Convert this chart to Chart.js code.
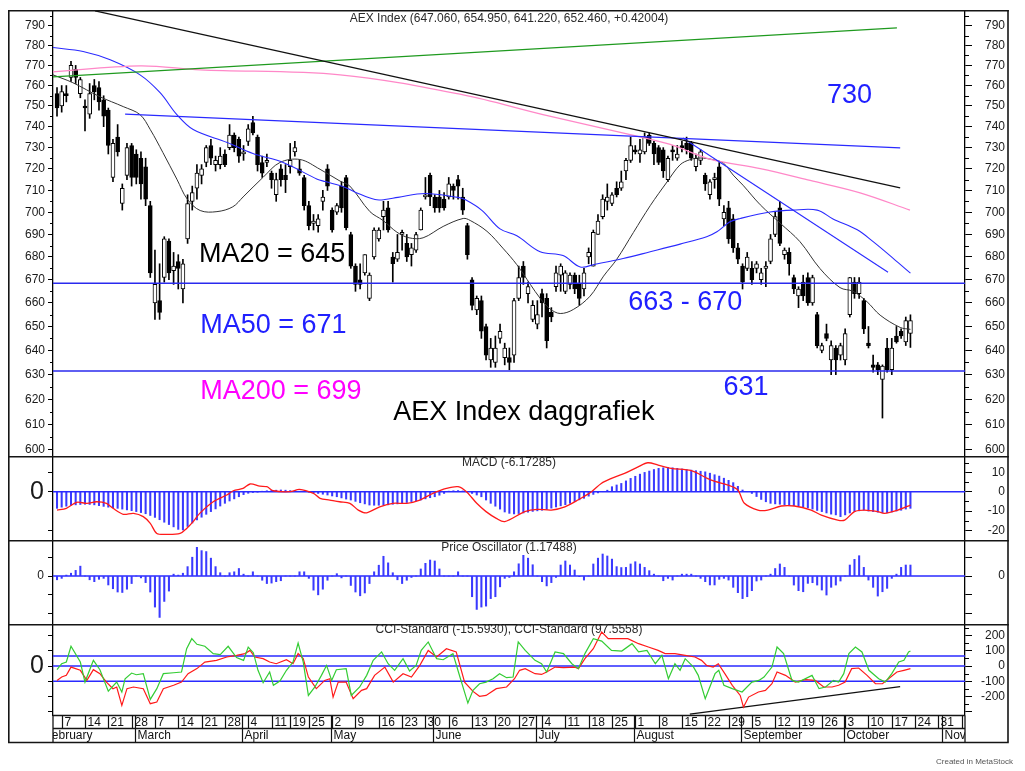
<!DOCTYPE html>
<html><head><meta charset="utf-8">
<script src="https://cdn.jsdelivr.net/npm/chart.js@4.4.0/dist/chart.umd.min.js"></script>
<style>
html,body{margin:0;padding:0;background:#fff;}
#wrap{position:relative;width:1025px;height:771px;background:#fff;overflow:hidden;}
canvas{position:absolute;left:0;}
</style></head><body>
<div id="wrap">
<canvas id="cMain" width="1025" height="446" style="top:10px"></canvas>
<canvas id="cMacd" width="1025" height="84" style="top:456px"></canvas>
<canvas id="cPo" width="1025" height="84" style="top:540px"></canvas>
<canvas id="cCci" width="1025" height="147" style="top:624px"></canvas>
</div>
<script>
// ---------- categories (trading days 2022) ----------
const tradingDays = ["02-04","02-07","02-08","02-09","02-10","02-11","02-14","02-15","02-16","02-17","02-18","02-21","02-22","02-23","02-24","02-25","02-28",
"03-01","03-02","03-03","03-04","03-07","03-08","03-09","03-10","03-11","03-14","03-15","03-16","03-17","03-18","03-21","03-22","03-23","03-24","03-25","03-28","03-29","03-30","03-31",
"04-01","04-04","04-05","04-06","04-07","04-08","04-11","04-12","04-13","04-14","04-19","04-20","04-21","04-22","04-25","04-26","04-27","04-28","04-29",
"05-02","05-03","05-04","05-05","05-06","05-09","05-10","05-11","05-12","05-13","05-16","05-17","05-18","05-19","05-20","05-23","05-24","05-25","05-26","05-27","05-30","05-31",
"06-01","06-02","06-03","06-06","06-07","06-08","06-09","06-10","06-13","06-14","06-15","06-16","06-17","06-20","06-21","06-22","06-23","06-24","06-27","06-28","06-29","06-30",
"07-01","07-04","07-05","07-06","07-07","07-08","07-11","07-12","07-13","07-14","07-15","07-18","07-19","07-20","07-21","07-22","07-25","07-26","07-27","07-28","07-29",
"08-01","08-02","08-03","08-04","08-05","08-08","08-09","08-10","08-11","08-12","08-15","08-16","08-17","08-18","08-19","08-22","08-23","08-24","08-25","08-26","08-29","08-30","08-31",
"09-01","09-02","09-05","09-06","09-07","09-08","09-09","09-12","09-13","09-14","09-15","09-16","09-19","09-20","09-21","09-22","09-23","09-26","09-27","09-28","09-29","09-30",
"10-03","10-04","10-05","10-06","10-07","10-10","10-11","10-12","10-13","10-14","10-17","10-18","10-19","10-20","10-21"];

// ---------- price series ----------
const openP = [756,750,756,764,768,756,750,746,760,759, 753,748,716,735,704,717,731,727,725,721, 703,660,661,671,687,674,678,666,688,705,
711,717,723,731,722,722,727,730,736,734, 727,733,742,735,723,723,718,708,720,717, 721,728,720,716,703,695,694,705,720,701,
700,712,716,690,676,670,673,662,680,688, 698,702,680,679,690,686,681,683,692,707, 717,707,707,706,707,712,715,707,694,670,
657,661,650,636,635,645,637,637,638,662, 676,664,653,651,664,662,656,667,672,665, 668,672,668,666,680,676,690,698,705,704,
711,711,719,724,729,727,728,736,732,730, 729,715,729,725,731,732,732,721,724,717, 708,715,721,697,702,697,684,676,675,675,
675,670,675,678,690,702,681,682,671,663, 669,671,660,655,640,647,636,641,638,636, 655,669,664,661,643,634,634,628,641,632,
646,648,643.5,647.06];
const highP = [759,760,760,772,770,764,753,761,763,762, 755,749,734,741,713,732,732,729,728,725, 705,683,677,689,688,682,681,679,708,712,
722,722,731,734,726,730,729,741,737,735, 731,741,745,736,726,727,719,718,722,722, 732,733,724,717,705,699,699,710,722,702,
704,714,717,691,677,677,681,673,693,693, 705,705,682,690,692,690,686,691,702,716, 718,708,710,709,716,713,717,711,695,671,
663,663,651,645,646,651,643,641,662,676, 678,669,661,661,666,664,658,676,677,674, 673,673,672,675,684,692,699,708,713,709,
714,719,725,735,731,734,737,737,733,731, 730,726,731,731,733,735,733,727,729,718, 715,718,723,703,705,699,686,677,682,678,
678,675,678,690,700,705,684,684,672,667, 672,673,672,656,643,651,644,642,643,649, 671,671,671,662,650,638,635,634,645,645,
650,649,654,654.95];
const lowP = [745,747,752,762,761,754,738,744,753,748, 740,727,714,726,701,715,712,713,706,703, 671,653,653,669,670,668,666,660,686,701,
706,713,721,722,719,720,721,729,728,723, 724,731,736,719,716,721,711,705,712,709, 718,726,717,701,692,692,691,701,710,691,
699,700,692,675,665,666,672,661,679,687, 692,691,669,678,683,678,676,682,692,706, 703,700,700,701,706,706,706,699,679,657,
655,645,636,633,633,643,634,632,635,661, 668,660,652,649,654,641,652,665,665,664, 666,664,659,663,677,676,690,697,701,703,
707,710,715,723,727,723,727,731,722,722, 716,714,724,724,728,727,724,719,722,710, 706,711,703,694,686,682,677,666,674,668,
673,668,667,677,689,685,679,672,664,658, 661,659,659,641,639,644,630,630,636,634, 654,662,662,647,641,631,630,612.5,631,630,
643,645,642,641.22];
const closeP = [749,757,755,770,764,763,749,756,757,752, 745,731,732,728,711,730,716,716,713,706, 673,668,656,688,673,676,675,677,704,709,
718,720,730,725,724,726,722,736,730,726, 728,739,737,722,718,724,715,715,715,715, 724,730,718,703,694,696,697,707,712,692,
703,702,693,676,668,668,681,672,692,692, 701,692,677,682,691,680,684,690,701,708, 707,702,702,702,713,710,712,701,681,659,
662,648,638,641,641,648,641,635,661,671, 671,667,659,655,660,644,654,673,676,673, 672,666,662,673,682,691,696,706,707,708,
708,714,724,731,728,729,735,732,727,723, 719,725,728,727,730,729,725,725,728,713, 714,716,706,700,688,684,679,669,680,670,
677,673,676,688,698,686,683,677,666,666, 663,660,671,642,642,645,642,636,642,647, 671,664,669,649,642,633,632,633.5,632,641,
643.5,646,652.5,652.46];

// moving averages (day index, value)
const ma20Idx = [-0.86,3.4,9.2,14.2,17.8,20.0,22.7,25.7,27.9,30.7,34.3,37.7,39.9,44.2,47.8,52.1,56.4,60.7,62.8,67.1,69.9,72.9,75.5,78.5,82.8,87.1,88.6,92.2,95.6,98.6,101.5,103.6,105.7,107.9,110.7,114.3,117.2,120.0,123.6,127.2,130.8,133.6,135.7,137.9,140.7,142.9,145.0,147.1,150.8,155.1,159.3,163.6,167.9,170.7,173.7,176.5,180.8,183.0];
const ma20Val = [765.3,761.4,754.5,749.7,745.8,738.6,727.7,715.2,706.1,700.8,700.3,702.5,707.0,716.1,723.0,724.4,719.8,714.3,712.0,700.3,696.3,691.0,688.5,688.5,693.6,697.2,696.3,691.4,683.9,676.6,668.0,662.0,657.5,655.5,657.2,662.9,671.6,678.9,690.9,703.0,713.9,721.9,724.3,725.1,724.3,722.7,717.1,712.4,703.4,695.0,686.8,674.9,666.6,665.0,660.5,654.8,649.6,648.8];
const ma50Idx = [-0.86,5.6,11.4,17.8,22.1,25.7,29.2,36.5,42.0,48.5,55.8,57.5,61.8,64.6,68.2,70.3,73.1,78.9,86,87.5,91.1,95.0,98.6,103.6,108.5,112.2,115.4,121.4,127.2,133.6,139.3,141.5,144.3,146.5,152.9,157.8,163.0,166.4,171.6,175.0,179.3,183.0];
const ma50Val = [779.0,777.0,772.8,765.3,756.5,745.8,738.6,732.4,727.2,723.0,715.2,714.1,711.4,708.6,705.8,705.8,706.8,708.6,706.8,705.8,700.9,692.5,689.4,682.3,680.6,675.6,676.8,679.3,682.3,685.7,689.0,691.2,695.7,697.2,700.1,701.0,701.0,697.0,692.1,686.8,679.4,672.9];
const ma200Idx = [-0.86,17.8,30.7,60.7,87.1,104.2,122.9,131.5,140.0,150.8,161.5,172.2,182.9];
const ma200Val = [766.8,769.8,767.8,765.3,755.4,745.8,736.2,731.5,724.6,720.1,714.6,708.9,701.0];

// trend lines and levels (day index, value)
const trendBlackIdx = [8.15,180.8], trendBlackVal = [797.7,711.2];
const trendGreenIdx = [-0.86,180.1], trendGreenVal = [764.3,789.0];
const trendBlueIdx = [14.6,180.8], trendBlueVal = [746.0,729.9];
const trendBlue2Idx = [134.2,178.2], trendBlue2Val = [734.6,673.3];
const supportLevels = [668.5,631.5];
const priceTicks = [600,610,620,630,640,650,660,670,680,690,700,710,720,730,740,750,760,770,780,790];

// ---------- MACD ----------
const macdHist = [-8.6,-8.0,-7.5,-7.0,-6.8,-6.6,-6.5,-6.6,-6.8,-7.2,
-7.6,-8.0,-8.3,-8.6,-9.0,-9.4,-9.8,-10.3,-10.8,-11.4,
-12.3,-13.3,-14.5,-15.8,-17.0,-18.2,-19.5,-19.8,-18.0,-16.2,
-14.6,-13.2,-11.7,-10.3,-8.9,-7.4,-6.0,-4.8,-3.7,-2.6,
-1.5,-0.8,-0.4,-0.2,0.2,0.5,0.7,0.8,0.9,0.8,
0.6,0.4,0.2,0.1,-0.2,-0.5,-0.9,-1.3,-1.7,-2.2,
-2.6,-3.2,-3.8,-4.3,-5.0,-5.7,-6.3,-6.9,-7.0,-7.0,
-6.9,-6.8,-6.5,-6.3,-6.0,-5.6,-5.1,-4.7,-4.3,-3.7,
-3.1,-2.6,-1.8,-0.9,0.3,0.5,0.6,0.4,0.0,-0.9,
-1.7,-2.6,-4.3,-6.0,-7.5,-9.0,-10.5,-11.2,-11.5,-11.3,
-11.0,-10.6,-10.2,-9.9,-9.6,-9.1,-8.5,-7.9,-7.3,-6.7,
-6.0,-5.1,-4.2,-3.4,-2.3,-1.4,-0.6,0.0,0.8,2.6,
3.5,4.3,5.6,6.9,8.0,9.1,10.0,10.7,11.5,12.1,
12.4,12.6,12.4,12.1,11.8,11.5,11.2,10.9,10.6,10.3,
9.6,8.8,8.1,7.0,5.9,4.7,2.8,0.9,0.0,-0.9,
-2.5,-4.0,-5.2,-6.0,-6.3,-6.5,-6.7,-6.9,-7.2,-7.5,
-7.8,-8.4,-9.0,-9.7,-10.3,-11.0,-11.6,-12.0,-12.9,-12.0,
-11.0,-10.3,-9.9,-9.5,-10.0,-10.3,-10.6,-10.8,-10.9,-10.5,
-10.0,-9.6,-9.0,-8.6];
const macdLineIdx = [0,2,4.2,6.4,8.5,10.6,12,14.2,16.4,18.5,20,21.4,23.5,26.4,27.8,29.2,30.6,33.5,36.4,37.8,39.9,41.4,43.5,45,46.4,50,52,55,56.4,58.5,60.6,62.8,64.6,66.4,69.2,72,75,77.8,80.6,83.5,86,87.8,90,92,94.2,96,100.3,103,106,108.9,111.7,114.6,116.7,118.9,121.7,124.6,126.7,128.9,131.7,136,140.3,143.9,146,147.4,150.3,152.4,155.3,158.1,161.7,163.9,167.4,168.9,171,173.1,176,177.4,180.3,183];
const macdLineVal = [-9.5,-8.6,-5.5,-6.0,-5.2,-6.0,-8.6,-11.7,-11.2,-12.9,-16.4,-21.6,-22.1,-21.6,-19.0,-15.5,-11.2,-5.2,-1.7,0.5,1.7,4.0,2.9,2.6,0.5,0,1.2,-0.9,-3.4,-4.3,-5.2,-6.0,-9.5,-10.9,-7.8,-6.0,-6.0,-4.3,-0.9,1.7,2.6,0,-6.0,-10.3,-13.8,-15.5,-10.3,-9.1,-9.5,-7.8,-4.3,0,4.3,6.9,9.5,12.9,15.0,13.8,12.1,10.9,6.0,3.4,0.9,-6.0,-9.5,-9.5,-7.4,-7.4,-9.5,-12.1,-14.7,-14.7,-10.3,-9.5,-10.3,-11.2,-9.5,-6.9];
const macdTicks = [10,0,-10,-20];

// ---------- Price oscillator ----------
const priceOsc = [-0.4,-0.25,0.1,0.3,0.6,1.05,0,-0.4,-0.6,-0.35,
-0.25,-0.95,-1.35,-1.7,-1.75,-1.4,-0.8,0,-0.2,-0.7,
-1.7,-3.3,-4.4,-2.7,-1.6,0.2,0.1,0.3,1.0,2.0,
3.05,2.7,2.6,1.9,1.0,0.35,0,0.35,0.45,0.8,
0.2,0,0.45,0,-0.45,-0.8,-0.75,-0.6,-0.5,0,
0,0,0.45,0.45,-0.25,-1.5,-2.0,-1.4,-0.45,0,
0.25,-0.2,0,-1.0,-1.7,-2.1,-1.8,-0.8,0.45,1.15,
2.1,1.4,0.35,-0.4,-0.8,-0.45,-0.15,0,0.75,1.35,
1.7,1.6,0.75,0,0,0,0.45,0,0,-2.2,
-3.55,-3.3,-3.2,-2.4,-2.2,-1.15,-0.25,-0.15,0.45,1.3,
2.2,1.9,1.2,0,-0.6,-1.05,-0.7,-0.15,1.17,1.6,
1.17,0.64,-0.07,-0.43,0,1.28,1.9,2.34,2.13,1.8,
1.0,0.9,0.92,1.28,1.52,1.28,0.92,0.57,0.2,0,
-0.5,-0.25,-0.43,0,0.2,0.2,0.2,0,-0.25,-0.6,
-0.95,-0.95,-0.35,-0.25,-0.43,-1.2,-1.77,-2.4,-2.2,-1.56,
-0.53,-0.43,0,0.2,0.8,1.28,0.92,0,-0.96,-1.56,
-1.67,-0.78,-0.71,-0.96,-1.49,-2.02,-1.2,-0.96,-0.53,0,
1.17,1.77,2.16,0.92,-0.43,-1.2,-2.13,-1.67,-1.31,-0.25,
0.2,0.92,1.17,1.17];
const poTicks = [2,0,-2,-4];

// ---------- CCI ----------
const cciSlowIdx = [0,1,2,3,5,6.4,7.8,9.2,10.6,12,12.8,13.9,15,16.4,18.5,20,21.4,22.8,25,26.7,28.1,30,31.7,34.2,36.4,38.5,40.3,41.4,42.4,44.2,45.6,47,49.2,50.6,51.7,52.8,53.9,55.6,57.4,58.5,59.2,60.3,62,63.5,65.3,66.4,68.1,70.3,72.1,74.2,76,77.8,79.6,81.4,83.5,85.6,87.4,89.2,90.6,92,94.2,96.4,98.1,99.2,100.4,102.5,103.9,105,106.8,108.6,111.1,111.8,113.2,115,116.8,118.2,120.3,122.4,124.7,126.8,128.9,130.4,132.5,134.7,136.8,138.2,139.3,140.7,141.8,143.2,144.8,146.5,147.2,148.3,150.4,151.9,153.3,154.4,156.2,158.3,160.5,162.6,164.4,166.2,167.6,169,170.4,171.9,173.7,175.5,177,178.3,180.1,181.6,183];
const cciSlowVal = [-94,-72,-61,-7,-28,-94,-24,-50,-105,-148,-137,-257,-148,-137,-148,-246,-235,-148,-126,-105,-50,-17,26,37,59,70,81,102,59,48,26,15,41,15,81,48,-72,-148,-94,-83,-203,-105,-105,-214,-159,-148,-61,-7,-105,-50,-72,4,102,59,113,92,-105,-166,-198,-192,-148,-137,-83,-28,-17,-50,-55,-39,-7,-11,-7,-17,48,113,222,179,179,179,146,124,102,81,81,70,59,37,4,-7,15,-50,-126,-192,-268,-203,-170,-159,-116,-39,-61,-105,-89,-94,-137,-137,-126,-105,-17,-13,-61,-116,-116,-83,-39,-28,-17];
const cciFastIdx = [0,1,2,3,5,6,7.8,9.2,11,12.8,13.9,14.6,16,17,18.5,20,21.4,22.8,25,26.7,27.8,28.9,30,31.7,33.5,35,36.7,38.5,40,41,42.1,43.1,44.2,45.6,46.4,47.8,49.2,50.6,51.7,52.8,53.9,55.3,56.7,57.8,58.9,59.9,62,63.1,64.9,66.4,67.8,69.6,71,72.4,74.2,75.6,77,78.1,79.6,81.4,82.8,84.9,86.4,88.1,89.2,90.6,92,93.5,94.9,96.4,97.8,98.9,100.4,102.5,103.9,105,106.8,108.6,110.4,111.8,113.2,115,116.8,118.9,121.1,123.3,124.7,126.5,128.3,129.7,131.1,132.5,133.6,134.7,136.5,137.5,139,141.1,141.9,143,144.8,146.9,149,150.5,151.6,153.3,154.4,155.8,157.6,159,161.9,163.4,164.8,166.5,167.6,168.7,169.8,171.2,172.6,174.1,176.2,177.6,179,180.5,181.6,182.6,183];
const cciFastVal = [-24,15,26,129,26,-105,37,-24,-164,-105,-170,-83,-46,-57,-50,-218,-148,-50,-44,-39,113,179,142,129,81,74,129,55,37,124,87,-28,-109,-39,-126,-98,-28,26,150,26,-192,-137,-61,4,-94,-24,-17,-192,-137,-61,37,92,15,-28,48,-33,4,102,157,48,41,81,-72,-242,-159,-116,-105,-83,-50,-76,-72,157,102,37,15,-39,92,81,15,-17,81,179,163,102,98,146,92,102,15,70,-83,15,-28,48,-7,-61,-214,-50,-28,-126,-148,-170,-105,-94,-72,-7,124,81,-94,-105,-61,-148,-137,-94,-105,-50,81,124,92,-28,-83,-105,-50,26,37,92,98];
const cciLevels = [65,0,-100];
const cciTrendIdx = [135.7,180.8], cciTrendVal = [-314,-135];
const cciTicks = [200,100,0,-100,-200,-300];

// ---------- date axis ----------
const weekTickIdx = [1,6,11,16,21,26,31,36,41,46,50,54,59,64,69,74,79,84,89,94,99,104,109,114,119,124,129,134,139,144,149,154,159,164,169,174,179,184,189,194];
const weekTickLabel = ['7','14','21','28','7','14','21','28','4','11','19','25','2','9','16','23','30','6','13','20','27','4','11','18','25','1','8','15','22','29','5','12','19','26','3','10','17','24','31','7'];
const monthIdx = [-3,17,40,59,81,103,124,147,169,190];
const monthLabel = ['February','March','April','May','June','July','August','September','October','November'];

// ---------- annotations (text, anchor in data coords) ----------
const notes = [
  {text:'730', i:165.1, v:751.5, color:'#2020ff'},
  {text:'MA20 = 645', i:30.45, v:677.8, color:'#000000'},
  {text:'MA50 = 671', i:30.7, v:647.2, color:'#2020ff'},
  {text:'MA200 = 699', i:30.7, v:620.3, color:'#ff00ff'},
  {text:'AEX Index daggrafiek', i:72.1, v:611.9, color:'#000000'},
  {text:'663 - 670', i:122.5, v:657.2, color:'#2020ff'},
  {text:'631', i:142.9, v:621.6, color:'#2020ff'}
];

// =====================================================
const X_MIN = -0.86, X_MAX = 194.7;
const FONT = 'Arial, "Liberation Sans", sans-serif';
Chart.defaults.font.family = FONT;
const idx = tradingDays.map((d, i) => i);
const pts = (xs, ys) => xs.map((x, k) => ({x: x, y: ys[k]}));
const hline = v => [{x: X_MIN, y: v}, {x: X_MAX, y: v}];
const steps = (a, b, s) => { const r = []; for (let v = a; v <= b + 1e-9; v += s) r.push(v); return r; };

function xScale() { return {type:'linear', min:X_MIN, max:X_MAX, display:false, offset:false, grid:{display:false}}; }
function yAxis(c) {
  return {
    type: c.type || 'linear', position: c.pos, min: c.min, max: c.max,
    afterBuildTicks: s => { s.ticks = c.ticks.map(v => ({value: v})); },
    afterFit: s => { s.width = c.width; s.paddingTop = 0; s.paddingBottom = 0; },
    ticks: {autoSkip:false, padding: c.pad, crossAlign: c.pos === 'left' ? 'near' : 'far',
            color:'#1a1a1a', font:{family:FONT, size:c.font || 12}, callback: v => c.label(v)},
    grid: {drawOnChartArea:false, drawTicks:true, tickLength:c.tickLen, color:'#000', lineWidth:1},
    border: {display:true, color:'#000', width:1.3}
  };
}
function line(ctx, x1, y1, x2, y2) { ctx.beginPath(); ctx.moveTo(x1, y1); ctx.lineTo(x2, y2); ctx.stroke(); }

const panelPlugin = {
  id: 'panel',
  afterDraw(chart, args, o) {
    const {ctx, chartArea: a} = chart;
    ctx.save();
    ctx.strokeStyle = '#000'; ctx.lineWidth = 1;
    (o.minor || []).forEach(m => {
      const s = chart.scales[m.id];
      m.values.forEach(v => {
        const py = Math.round(s.getPixelForValue(v)) + 0.5;
        if (py < a.top || py > a.bottom) return;
        if (s.position === 'left') line(ctx, a.left - m.len, py, a.left, py);
        else line(ctx, a.right, py, a.right + m.len, py);
      });
    });
    ctx.strokeStyle = '#151515'; ctx.lineWidth = 1.6;
    line(ctx, 8, 0.8, 1008.8, 0.8);
    line(ctx, 8.8, 0, 8.8, o.frameBottom);
    line(ctx, 1008, 0, 1008, o.frameBottom);
    ctx.font = '12px ' + FONT; ctx.fillStyle = '#2a2a2a';
    ctx.textAlign = 'center'; ctx.textBaseline = 'middle';
    ctx.fillText(o.title, (a.left + a.right) / 2, o.titleY);
    ctx.restore();
  }
};

const notesPlugin = {
  id: 'notes',
  afterDatasetsDraw(chart) {
    const {ctx} = chart; const xs = chart.scales.x, ys = chart.scales.y;
    ctx.save();
    ctx.font = '27px ' + FONT; ctx.textAlign = 'left'; ctx.textBaseline = 'alphabetic';
    notes.forEach(n => { ctx.fillStyle = n.color; ctx.fillText(n.text, xs.getPixelForValue(n.i), ys.getPixelForValue(n.v)); });
    ctx.restore();
  }
};

const bigZero = {
  id: 'bigZero'
};

const dateAxisPlugin = {
  id: 'dateAxis',
  afterDraw(chart) {
    const {ctx, chartArea: a} = chart; const xs = chart.scales.x;
    const t = Math.round(a.bottom) + 0.5, m = t + 13, b = t + 27;
    ctx.save();
    ctx.beginPath(); ctx.rect(a.left, t - 1, a.right - a.left, b - t + 2); ctx.clip();
    ctx.strokeStyle = '#111'; ctx.lineWidth = 1.2;
    ctx.font = '12px ' + FONT; ctx.fillStyle = '#111'; ctx.textAlign = 'left'; ctx.textBaseline = 'middle';
    weekTickIdx.forEach((d, k) => {
      const px = Math.round(xs.getPixelForValue(d)) + 0.5;
      line(ctx, px, t, px, m);
      ctx.fillText(weekTickLabel[k], px + 2, t + 7);
    });
    monthIdx.forEach((d, k) => {
      const px = Math.round(xs.getPixelForValue(d - 0.3)) + 0.5;
      line(ctx, px, t, px, b);
      ctx.fillText(monthLabel[k], px + 2, m + 7.5);
    });
    ctx.restore();
    ctx.save();
    ctx.strokeStyle = '#151515'; ctx.lineWidth = 1.4;
    line(ctx, a.left, t, a.right, t);
    line(ctx, a.left, m, a.right, m);
    ctx.lineWidth = 1.6;
    line(ctx, 8, b, 1008.8, b);
    ctx.lineWidth = 1.3;
    line(ctx, a.left, t, a.left, b);
    line(ctx, a.right, t, a.right, b);
    ctx.font = '8px ' + FONT; ctx.fillStyle = '#555'; ctx.textAlign = 'left'; ctx.textBaseline = 'middle';
    ctx.fillText('Created in MetaStock', 936, 138);
    ctx.restore();
  }
};

const baseOpts = (extra) => Object.assign({
  responsive:false, animation:false, devicePixelRatio:1, events:[],
  layout:{padding:{left:0, right:20, top:0, bottom:0}}
}, extra);
const lineDs = (data, color, w, order, tension) => ({type:'line', data, borderColor:color, borderWidth:w, pointRadius:0, tension:tension || 0, order, fill:false});

// ---------------- MAIN PRICE CHART ----------------
new Chart(document.getElementById('cMain'), {
  type: 'bar',
  data: {datasets: [
    lineDs(hline(supportLevels[0]), '#2a2aee', 1.3, 0),
    lineDs(hline(supportLevels[1]), '#2a2aee', 1.3, 0),
    lineDs(pts(trendBlackIdx, trendBlackVal), '#111', 1.3, 0),
    lineDs(pts(trendGreenIdx, trendGreenVal), '#1f9a1f', 1.3, 0),
    lineDs(pts(trendBlueIdx, trendBlueVal), '#2a2aff', 1.3, 0),
    lineDs(pts(trendBlue2Idx, trendBlue2Val), '#2a2aff', 1.1, 0),
    lineDs(pts(ma200Idx, ma200Val), '#ff88c8', 1.3, 0, 0.35),
    lineDs(pts(ma50Idx, ma50Val), '#2a2aff', 1.1, 0, 0.35),
    lineDs(pts(ma20Idx, ma20Val), '#333', 1, 0, 0.35),
    {type:'bar', data: idx.map(i => ({x:i, y:[lowP[i], highP[i]]})), backgroundColor:'#000',
     barThickness:1, grouped:false, order:2},
    {type:'bar', data: idx.map(i => ({x:i, y:[openP[i], closeP[i]]})),
     backgroundColor: idx.map(i => closeP[i] >= openP[i] ? '#fff' : '#000'),
     borderColor:'#000', borderWidth:1, borderSkipped:false, barThickness:4, minBarLength:1, grouped:false, order:1}
  ]},
  options: baseOpts({
    plugins: {legend:{display:false}, tooltip:{enabled:false},
      panel: {title:'AEX Index (647.060, 654.950, 641.220, 652.460, +0.42004)', titleY:9, frameBottom:446,
        minor:[{id:'y', values:steps(605, 795, 10), len:3}, {id:'y2', values:steps(605, 795, 10), len:4}]}},
    scales: {
      x: xScale(),
      y: yAxis({type:'logarithmic', pos:'left', min:597.6, max:798.2, ticks:priceTicks, label:v => String(v), width:53, tickLen:5, pad:3}),
      y2: yAxis({type:'logarithmic', pos:'right', min:597.6, max:798.2, ticks:priceTicks, label:v => String(v), width:40, tickLen:7, pad:0})
    }
  }),
  plugins: [panelPlugin, notesPlugin]
});

// ---------------- MACD ----------------
new Chart(document.getElementById('cMacd'), {
  type: 'bar',
  data: {datasets: [
    lineDs(pts(macdLineIdx, macdLineVal), '#ff1a1a', 1.3, 0, 0.3),
    lineDs(hline(0), '#2a2aff', 1.5, 1),
    {type:'bar', data: idx.map(i => ({x:i, y:macdHist[i]})), backgroundColor:'#3a3aff', barThickness:1.4, grouped:false, order:2}
  ]},
  options: baseOpts({
    plugins: {legend:{display:false}, tooltip:{enabled:false},
      panel: {title:'MACD (-6.17285)', titleY:6.5, frameBottom:84,
        minor:[{id:'y2', values:[15,5,-5,-15], len:4}]}},
    scales: {
      x: xScale(),
      y: yAxis({pos:'left', min:-25.0, max:18.5, ticks:[10,0,-20], label:v => v === 0 ? '0' : '', width:53, tickLen:5, pad:4, font:25}),
      y2: yAxis({pos:'right', min:-25.0, max:18.5, ticks:macdTicks, label:v => String(v), width:40, tickLen:7, pad:0})
    }
  }),
  plugins: [panelPlugin]
});

// ---------------- PRICE OSCILLATOR ----------------
new Chart(document.getElementById('cPo'), {
  type: 'bar',
  data: {datasets: [
    lineDs(hline(0), '#2a2aff', 1.5, 0),
    {type:'bar', data: idx.map(i => ({x:i, y:priceOsc[i]})), backgroundColor:'#3a3aff', barThickness:1.4, grouped:false, order:2}
  ]},
  options: baseOpts({
    plugins: {legend:{display:false}, tooltip:{enabled:false},
      panel: {title:'Price Oscillator (1.17488)', titleY:7.5, frameBottom:84, minor:[]}},
    scales: {
      x: xScale(),
      y: yAxis({pos:'left', min:-5.1, max:3.83, ticks:poTicks, label:v => v === 0 ? '0' : '', width:53, tickLen:5, pad:4}),
      y2: yAxis({pos:'right', min:-5.1, max:3.83, ticks:poTicks, label:v => v === 0 ? '0' : '', width:40, tickLen:7, pad:0})
    }
  }),
  plugins: [panelPlugin]
});

// ---------------- CCI ----------------
new Chart(document.getElementById('cCci'), {
  type: 'bar',
  data: {datasets: [
    lineDs(pts(cciFastIdx, cciFastVal), '#33cc33', 1.2, 0),
    lineDs(pts(cciSlowIdx, cciSlowVal), '#ff1a1a', 1.2, 0),
    lineDs(pts(cciTrendIdx, cciTrendVal), '#111', 1.3, 0),
    lineDs(hline(cciLevels[0]), '#2a2aff', 1.4, 1),
    lineDs(hline(cciLevels[1]), '#2a2aff', 1.4, 1),
    lineDs(hline(cciLevels[2]), '#2a2aff', 1.4, 1)
  ]},
  options: baseOpts({
    layout:{padding:{left:0, right:20, top:0, bottom:56}},
    plugins: {legend:{display:false}, tooltip:{enabled:false},
      panel: {title:'CCI-Standard (-15.5930), CCI-Standard (97.5558)', titleY:6, frameBottom:118,
        minor:[{id:'y2', values:[250,150,50,-50,-150,-250], len:4}]}},
    scales: {
      x: xScale(),
      y: yAxis({pos:'left', min:-320, max:274.5, ticks:cciTicks, label:v => v === 0 ? '0' : '', width:53, tickLen:5, pad:4, font:25}),
      y2: yAxis({pos:'right', min:-320, max:274.5, ticks:cciTicks, label:v => v === -300 ? '' : String(v), width:40, tickLen:7, pad:0})
    }
  }),
  plugins: [panelPlugin, dateAxisPlugin]
});
</script>
</body></html>
